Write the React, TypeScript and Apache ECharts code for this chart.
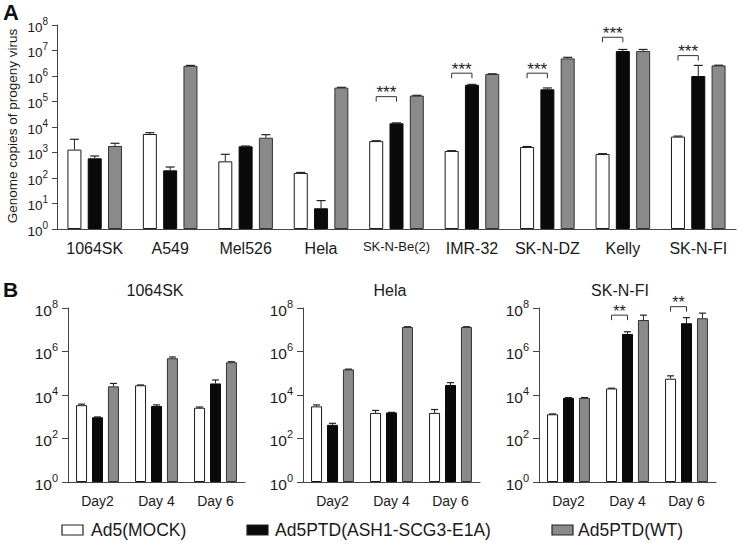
import React, { useEffect, useRef } from 'react';
import * as echarts from 'echarts';

// ---------- Panel A data ----------
const cellLinesA = ['1064SK', 'A549', 'Mel526', 'Hela', 'SK-N-Be(2)', 'IMR-32', 'SK-N-DZ', 'Kelly', 'SK-N-FI'];
const mockA = [1300, 5300, 450, 158, 2800, 1150, 1650, 870, 4200];
const mockAErr = [3300, 6000, 850, 165, 2900, 1180, 1720, 900, 4400];
const ptdA = [590, 200, 1750, 6.5, 14000, 450000, 300000, 9500000, 1000000];
const ptdAErr = [730, 270, 1800, 13, 14500, 470000, 340000, 11000000, 2600000];
const wtA = [1800, 2500000, 3800, 350000, 170000, 1200000, 4900000, 9500000, 2600000];
const wtAErr = [2300, 2600000, 5000, 360000, 175000, 1220000, 5400000, 11000000, 2650000];
const sigACats = [4, 5, 6, 7, 8];
const sigAHeights = [155000, 1290000, 1290000, 33000000, 6300000];
const sigALabel = '***';

// ---------- Panel B data ----------
const days = ['Day2', 'Day 4', 'Day 6'];
const panelTitlesB = ['1064SK', 'Hela', 'SK-N-FI'];
const mockB = [
  [3400, 28000, 2600],
  [3000, 1500, 1500],
  [1300, 20000, 56000],
];
const mockBErr = [
  [3800, 29000, 2800],
  [3500, 1950, 2150],
  [1350, 20500, 76000],
];
const ptdB = [
  [950, 3100, 34000],
  [425, 1580, 29000],
  [7400, 6400000, 20000000],
];
const ptdBErr = [
  [980, 3500, 49000],
  [500, 1600, 37000],
  [7600, 8100000, 36000000],
];
const wtB = [
  [25000, 490000, 320000],
  [150000, 13500000, 13500000],
  [7400, 28000000, 34000000],
];
const wtBErr = [
  [34000, 560000, 340000],
  [155000, 13800000, 13800000],
  [7600, 47000000, 58000000],
];
const sigBPanel = 2;
const sigBCats = [1, 2];
const sigBHeights = [47000000, 115000000];
const sigBLabel = '**';

const seriesNames = ['Ad5(MOCK)', 'Ad5PTD(ASH1-SCG3-E1A)', 'Ad5PTD(WT)'];

// ---------- styles ----------
const FONT = "'Liberation Sans', Arial, Helvetica, sans-serif";
const AXIS = '#444';
const TXT = '#1a1a1a';
const barStyles = [
  { color: '#ffffff', borderColor: '#1a1a1a', borderWidth: 1 },
  { color: '#0a0a0a', borderColor: '#0a0a0a', borderWidth: 1 },
  { color: '#8a8a8a', borderColor: '#333333', borderWidth: 1 },
];

function supLabel(v: number) {
  const e = Math.round(Math.log10(v));
  return `{b|10}{s|${e}}`;
}

function errRender(step: number, capHalf: number) {
  return (params: any, api: any) => {
    const i = api.value(0);
    const top = api.value(1);
    const k = api.value(2);
    const base = api.value(3);
    const b = api.coord([i, base]);
    const t = api.coord([i, top]);
    const x = b[0] + (k - 1) * step;
    return {
      type: 'group',
      children: [
        { type: 'line', shape: { x1: x, y1: b[1], x2: x, y2: t[1] }, style: { stroke: '#222', lineWidth: 1 } },
        { type: 'line', shape: { x1: x - capHalf, y1: t[1], x2: x + capHalf, y2: t[1] }, style: { stroke: '#222', lineWidth: 1.2 } },
      ],
    };
  };
}

function bracketRender(step: number, label: string, fontSize: number) {
  return (params: any, api: any) => {
    const p = api.coord([api.value(0), api.value(1)]);
    const x1 = p[0] - step;
    const x2 = p[0];
    const y = p[1];
    return {
      type: 'group',
      children: [
        {
          type: 'polyline',
          shape: { points: [[x1, y + 5], [x1, y], [x2, y], [x2, y + 5]] },
          style: { stroke: '#333', fill: null, lineWidth: 1 },
        },
        {
          type: 'text',
          x: (x1 + x2) / 2,
          y: y - 4,
          style: { text: label, align: 'center', verticalAlign: 'middle', fontSize, fontFamily: FONT, fill: '#222' },
        },
      ],
    };
  };
}

function buildOption() {
  const grids: any[] = [
    { left: 57, top: 25, width: 679, height: 204 },
    { left: 68, top: 308, width: 177, height: 174 },
    { left: 303, top: 308, width: 177, height: 174 },
    { left: 539, top: 308, width: 177, height: 174 },
  ];

  const xAxes: any[] = [
    {
      type: 'category',
      gridIndex: 0,
      data: cellLinesA,
      axisLine: { lineStyle: { color: AXIS, width: 1 } },
      axisTick: { alignWithLabel: true, length: 5, lineStyle: { color: AXIS } },
      axisLabel: {
        fontSize: 16,
        color: TXT,
        fontFamily: FONT,
        margin: 11,
        interval: 0,
        formatter: (v: string) => (v === 'SK-N-Be(2)' ? `{n|${v}}` : v),
        rich: { n: { fontSize: 13, fontFamily: FONT, color: TXT } },
      },
    },
  ];
  const yAxes: any[] = [
    {
      type: 'log',
      gridIndex: 0,
      logBase: 10,
      min: 1,
      max: 100000000,
      interval: 1,
      splitLine: { show: false },
      axisLine: { show: true, lineStyle: { color: AXIS, width: 1 } },
      axisTick: { show: true, length: 5, lineStyle: { color: AXIS } },
      axisLabel: {
        margin: 9,
        formatter: supLabel,
        rich: {
          b: { fontSize: 13.5, fontFamily: FONT, color: TXT, lineHeight: 18, verticalAlign: 'bottom' },
          s: { fontSize: 10, fontFamily: FONT, color: TXT, lineHeight: 10, verticalAlign: 'top' },
        },
      },
    },
  ];
  for (let p = 0; p < 3; p++) {
    xAxes.push({
      type: 'category',
      gridIndex: p + 1,
      data: days,
      axisLine: { lineStyle: { color: AXIS, width: 1 } },
      axisTick: { alignWithLabel: true, length: 4, lineStyle: { color: AXIS } },
      axisLabel: { fontSize: 14, color: TXT, fontFamily: FONT, margin: 12, interval: 0 },
    });
    yAxes.push({
      type: 'log',
      gridIndex: p + 1,
      logBase: 10,
      min: 1,
      max: 100000000,
      interval: 2,
      splitLine: { show: false },
      axisLine: { show: true, lineStyle: { color: AXIS, width: 1 } },
      axisTick: { show: true, length: 6, lineStyle: { color: AXIS } },
      axisLabel: {
        margin: 10,
        formatter: supLabel,
        rich: {
          b: { fontSize: 15.5, fontFamily: FONT, color: TXT, lineHeight: 20, verticalAlign: 'bottom' },
          s: { fontSize: 11, fontFamily: FONT, color: TXT, lineHeight: 11, verticalAlign: 'top' },
        },
      },
    });
  }

  const series: any[] = [];
  // Panel A bars
  const valsA = [mockA, ptdA, wtA];
  const errsA = [mockAErr, ptdAErr, wtAErr];
  for (let k = 0; k < 3; k++) {
    series.push({
      type: 'bar',
      name: seriesNames[k],
      xAxisIndex: 0,
      yAxisIndex: 0,
      data: valsA[k],
      barWidth: 14,
      barGap: '45%',
      itemStyle: barStyles[k],
    });
  }
  const errDataA: number[][] = [];
  for (let k = 0; k < 3; k++) {
    for (let i = 0; i < cellLinesA.length; i++) errDataA.push([i, errsA[k][i], k, valsA[k][i]]);
  }
  series.push({
    type: 'custom',
    xAxisIndex: 0,
    yAxisIndex: 0,
    data: errDataA,
    renderItem: errRender(20.3, 4.5),
    z: 5,
    silent: true,
  });
  series.push({
    type: 'custom',
    xAxisIndex: 0,
    yAxisIndex: 0,
    data: sigACats.map((c, j) => [c, sigAHeights[j]]),
    renderItem: bracketRender(20.3, sigALabel, 17),
    z: 5,
    silent: true,
  });

  // Panel B
  for (let p = 0; p < 3; p++) {
    const vals = [mockB[p], ptdB[p], wtB[p]];
    const errs = [mockBErr[p], ptdBErr[p], wtBErr[p]];
    for (let k = 0; k < 3; k++) {
      series.push({
        type: 'bar',
        name: seriesNames[k],
        xAxisIndex: p + 1,
        yAxisIndex: p + 1,
        data: vals[k],
        barWidth: 11,
        barGap: '45%',
        itemStyle: barStyles[k],
      });
    }
    const ed: number[][] = [];
    for (let k = 0; k < 3; k++) {
      for (let i = 0; i < days.length; i++) ed.push([i, errs[k][i], k, vals[k][i]]);
    }
    series.push({
      type: 'custom',
      xAxisIndex: p + 1,
      yAxisIndex: p + 1,
      data: ed,
      renderItem: errRender(15.95, 3.5),
      z: 5,
      silent: true,
    });
    if (p === sigBPanel) {
      series.push({
        type: 'custom',
        xAxisIndex: p + 1,
        yAxisIndex: p + 1,
        data: sigBCats.map((c, j) => [c, sigBHeights[j]]),
        renderItem: bracketRender(15.95, sigBLabel, 16),
        z: 5,
        silent: true,
      });
    }
  }

  const titleX = [155, 390, 620];
  const graphic: any[] = [
    { type: 'text', x: 3, y: 1, style: { text: 'A', fontSize: 22, fontWeight: 'bold', fontFamily: FONT, fill: '#111', verticalAlign: 'top' } },
    { type: 'text', x: 3, y: 279, style: { text: 'B', fontSize: 21, fontWeight: 'bold', fontFamily: FONT, fill: '#111', verticalAlign: 'top' } },
    {
      type: 'text',
      x: 12,
      y: 126,
      rotation: Math.PI / 2,
      style: { text: 'Genome copies of progeny virus', fontSize: 13.5, fontFamily: FONT, fill: TXT, align: 'center', verticalAlign: 'middle' },
    },
  ];
  panelTitlesB.forEach((t, i) => {
    graphic.push({
      type: 'text',
      x: titleX[i],
      y: 290,
      style: { text: t, fontSize: 16, fontFamily: FONT, fill: TXT, align: 'center', verticalAlign: 'middle' },
    });
  });
  const legendBoxX = [62, 247, 552];
  const legendTextX = [91, 275, 578];
  seriesNames.forEach((n, i) => {
    graphic.push({
      type: 'rect',
      shape: { x: legendBoxX[i], y: 525, width: 21, height: 10 },
      style: { fill: barStyles[i].color, stroke: '#222', lineWidth: 1.2 },
    });
    graphic.push({
      type: 'text',
      x: legendTextX[i],
      y: 530,
      style: { text: n, fontSize: 17.5, fontFamily: FONT, fill: TXT, verticalAlign: 'middle' },
    });
  });

  return {
    animation: false,
    backgroundColor: '#ffffff',
    textStyle: { fontFamily: FONT },
    grid: grids,
    xAxis: xAxes,
    yAxis: yAxes,
    series,
    graphic,
  };
}

export default function App() {
  const ref = useRef<HTMLDivElement>(null);
  useEffect(() => {
    const chart = echarts.init(ref.current as HTMLDivElement, null, { renderer: 'svg' });
    chart.setOption(buildOption() as any);
    return () => chart.dispose();
  }, []);
  return (
    <div
      ref={ref}
      style={{ position: 'fixed', left: 0, top: 0, width: 740, height: 543, background: '#fff' }}
    />
  );
}
